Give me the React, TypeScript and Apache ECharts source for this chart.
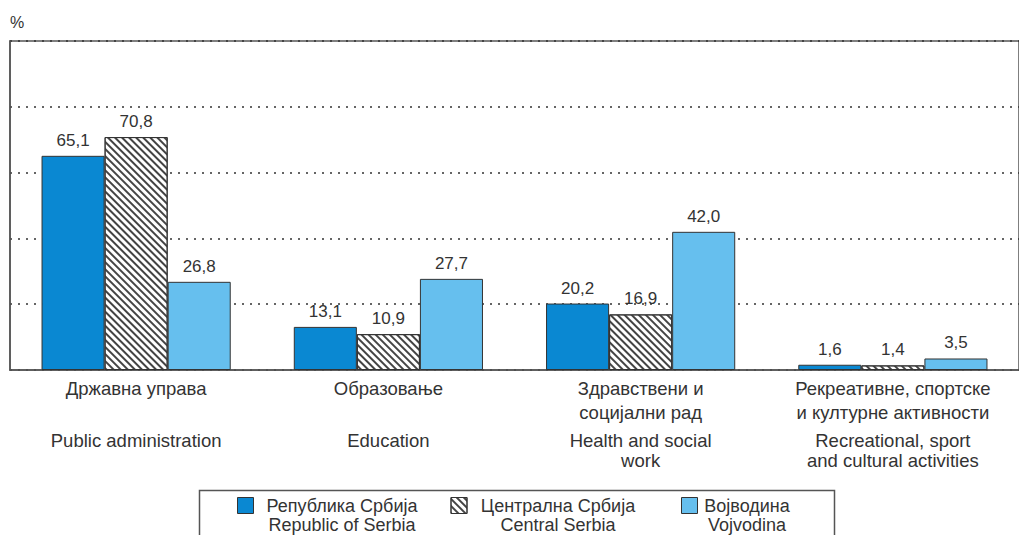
import React, { useEffect, useRef } from "react";
import * as echarts from "echarts";

const categoriesCyr: string[][] = [
  ["Државна управа", ""],
  ["Образовање", ""],
  ["Здравствени и", "социјални рад"],
  ["Рекреативне, спортске", "и културне активности"],
];
const categoriesEng: string[][] = [
  ["Public administration", ""],
  ["Education", ""],
  ["Health and social", "work"],
  ["Recreational, sport", "and cultural activities"],
];
const seriesNamesCyr = ["Република Србија", "Централна Србија", "Војводина"];
const seriesNamesEng = ["Republic of Serbia", "Central Serbia", "Vojvodina"];
const serbia = [65.1, 13.1, 20.2, 1.6];
const centralSerbia = [70.8, 10.9, 16.9, 1.4];
const vojvodina = [26.8, 27.7, 42.0, 3.5];
const yTicks = [0, 20, 40, 60, 80, 100];

const FONT = "'Liberation Sans', Arial, sans-serif";
const TXT = 18.5;
const LEG = 18;

export default function App() {
  const ref = useRef<HTMLDivElement>(null);
  useEffect(() => {
    if (!ref.current) return;
    const chart = echarts.init(ref.current, undefined, { renderer: "svg" });
    const fmt = (p: any) => Number(p.value).toFixed(1).replace(".", ",");
    const label = {
      show: true,
      position: "top" as const,
      distance: 7,
      formatter: fmt,
      fontSize: 17,
      color: "#333",
      fontFamily: FONT,
    };
    const catKeys = categoriesCyr.map((_, i) => String(i));
    const legendStyles = ["a", "b", "c"];
    const txt = { fontSize: TXT, color: "#333", fontFamily: FONT };
    const ltxt = { fontSize: LEG, color: "#333", fontFamily: FONT, lineHeight: 19 };
    chart.setOption({
      animation: false,
      textStyle: { fontFamily: FONT },
      grid: {
        left: 10,
        right: -3,
        top: 41,
        bottom: 165,
        show: true,
        borderColor: "#555",
        borderWidth: 1.5,
      },
      xAxis: {
        type: "category",
        data: catKeys,
        axisTick: { show: false },
        axisLine: { lineStyle: { color: "#555", width: 1.5 } },
        axisLabel: {
          interval: 0,
          margin: 6,
          color: "#333",
          fontSize: TXT,
          fontFamily: FONT,
          lineHeight: 24,
          formatter: (v: string) => {
            const i = Number(v);
            const c = categoriesCyr[i];
            const e = categoriesEng[i];
            return `{c|${c[0] || " "}}\n{c|${c[1] || " "}}\n{e|${e[0] || " "}}\n{f|${e[1] || " "}}`;
          },
          rich: {
            c: { lineHeight: 24, ...txt },
            e: { lineHeight: 32, ...txt },
            f: { lineHeight: 8, ...txt },
          },
        },
      },
      yAxis: {
        type: "value",
        min: yTicks[0],
        max: yTicks[yTicks.length - 1],
        interval: 20,
        name: "%",
        nameLocation: "end",
        nameGap: 11,
        nameTextStyle: { align: "left", fontSize: 16, color: "#333", fontFamily: FONT },
        axisLabel: { show: false },
        axisTick: { show: false },
        axisLine: { show: true, lineStyle: { color: "#555", width: 1.5 } },
        splitLine: {
          show: true,
          lineStyle: { color: "#333", type: [2, 6], width: 1.5 },
        },
      },
      legend: {
        left: 237,
        top: 477,
        padding: 0,
        itemGap: 0,
        itemWidth: 16,
        itemHeight: 16,
        icon: "rect",
        itemStyle: { borderColor: "#333", borderWidth: 1 },
        textStyle: {
          fontSize: LEG,
          color: "#333",
          lineHeight: 19,
          fontFamily: FONT,
          rich: {
            a: { align: "center", width: 157, padding: [0, 30, 0, 5], ...ltxt },
            b: { align: "center", width: 158, padding: [0, 44, 0, 7], ...ltxt },
            c: { align: "center", width: 89, padding: [0, 0, 0, 0], ...ltxt },
          },
        },
        formatter: (name: string) => {
          const i = seriesNamesCyr.indexOf(name);
          const s = legendStyles[i];
          return `\n{${s}|${seriesNamesCyr[i]}}\n{${s}|${seriesNamesEng[i]}}`;
        },
        data: seriesNamesCyr,
      },
      graphic: [
        {
          type: "rect",
          left: 197,
          top: 488,
          shape: { x: 0, y: 0, width: 635, height: 70 },
          style: { fill: "none", stroke: "#555", lineWidth: 1.5 },
          silent: true,
        },
      ],
      series: [
        {
          name: seriesNamesCyr[0],
          type: "bar",
          data: serbia,
          barGap: "0%",
          barCategoryGap: "25%",
          itemStyle: { color: "#0a88d2", borderColor: "#333", borderWidth: 1 },
          label,
        },
        {
          name: seriesNamesCyr[1],
          type: "bar",
          data: centralSerbia,
          barGap: "0%",
          barCategoryGap: "25%",
          itemStyle: {
            color: "#ffffff",
            borderColor: "#333",
            borderWidth: 1,
            decal: {
              symbol: "rect",
              symbolSize: 1,
              color: "#444",
              backgroundColor: "#ffffff",
              dashArrayX: [1, 0],
              dashArrayY: [1.3, 2.5],
              rotation: Math.PI / 4,
            },
          },
          label,
        },
        {
          name: seriesNamesCyr[2],
          type: "bar",
          data: vojvodina,
          barGap: "0%",
          barCategoryGap: "25%",
          itemStyle: { color: "#66bfee", borderColor: "#333", borderWidth: 1 },
          label,
        },
      ],
    });
    return () => chart.dispose();
  }, []);
  return (
    <div
      ref={ref}
      style={{ position: "fixed", left: 0, top: 0, width: 1019, height: 535, background: "#fff" }}
    />
  );
}
